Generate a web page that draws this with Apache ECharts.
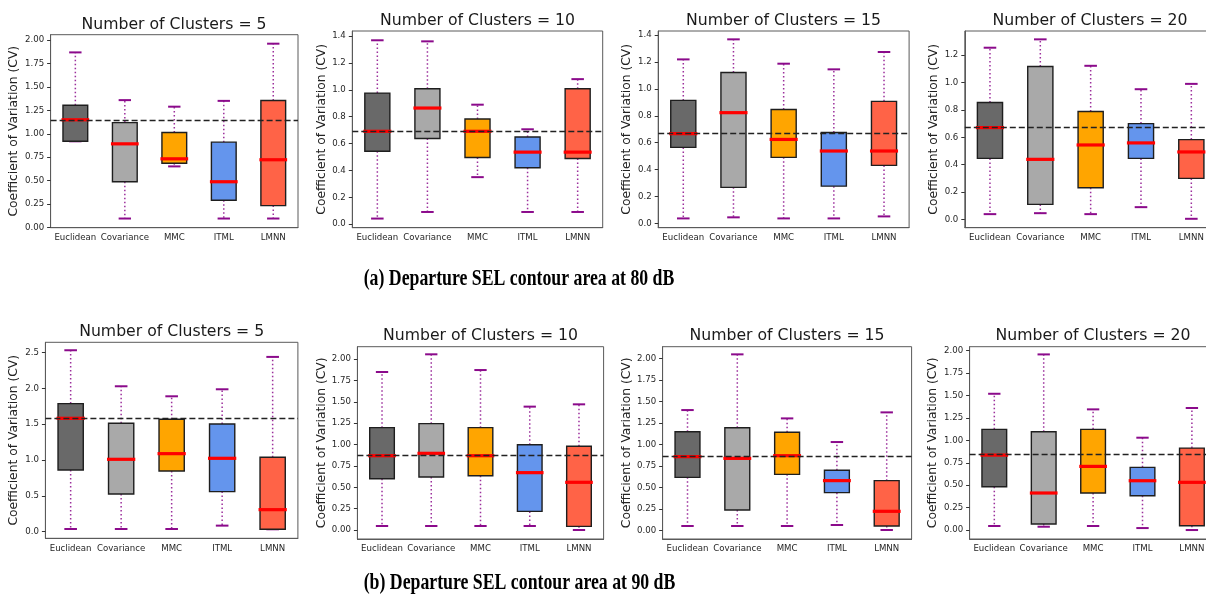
<!DOCTYPE html>
<html><head><meta charset="utf-8">
<script src="https://cdn.jsdelivr.net/npm/echarts@6/dist/echarts.min.js"></script>
<style>html,body{margin:0;padding:0;background:#fff}#c{width:1206px;height:599px}</style>
</head><body><div id="c"></div>
<script>
// ---------------- DATA ----------------
const categories = ['Euclidean', 'Covariance', 'MMC', 'ITML', 'LMNN'];
const panelTitles = ['Number of Clusters = 5', 'Number of Clusters = 10', 'Number of Clusters = 15', 'Number of Clusters = 20',
                     'Number of Clusters = 5', 'Number of Clusters = 10', 'Number of Clusters = 15', 'Number of Clusters = 20'];
const captionA = '(a) Departure SEL contour area at 80 dB';
const captionB = '(b) Departure SEL contour area at 90 dB';
const yAxisName = 'Coefficient of Variation (CV)';

// five-number summaries per method: [lower whisker, Q1, median, Q3, upper whisker]
const sel80k5 = [[0.92, 0.92, 1.15, 1.305, 1.87], [0.095, 0.488, 0.893, 1.12, 1.36], [0.652, 0.686, 0.733, 1.014, 1.29], [0.095, 0.29, 0.488, 0.911, 1.352], [0.095, 0.233, 0.723, 1.356, 1.963]];
const sel80k10 = [[0.042, 0.543, 0.691, 0.975, 1.368], [0.091, 0.637, 0.864, 1.007, 1.36], [0.35, 0.496, 0.691, 0.783, 0.889], [0.091, 0.42, 0.536, 0.649, 0.706], [0.091, 0.489, 0.536, 1.007, 1.079]];
const sel80k15 = [[0.037, 0.565, 0.667, 0.914, 1.219], [0.045, 0.268, 0.823, 1.122, 1.368], [0.037, 0.491, 0.624, 0.847, 1.187], [0.037, 0.277, 0.538, 0.676, 1.145], [0.052, 0.431, 0.538, 0.907, 1.274]];
const sel80k20 = [[0.039, 0.446, 0.671, 0.854, 1.254], [0.046, 0.11, 0.439, 1.117, 1.315], [0.039, 0.232, 0.544, 0.788, 1.122], [0.09, 0.446, 0.559, 0.7, 0.951], [0.005, 0.3, 0.493, 0.583, 0.99]];
const sel90k5 = [[0.037, 0.861, 1.583, 1.788, 2.533], [0.037, 0.526, 1.01, 1.513, 2.03], [0.037, 0.847, 1.089, 1.569, 1.89], [0.084, 0.559, 1.024, 1.504, 1.988], [0.033, 0.033, 0.307, 1.038, 2.44]];
const sel90k10 = [[0.047, 0.6, 0.869, 1.197, 1.848], [0.047, 0.62, 0.897, 1.244, 2.055], [0.047, 0.635, 0.869, 1.197, 1.871], [0.047, 0.218, 0.671, 0.998, 1.443], [0.0, 0.043, 0.558, 0.979, 1.47]];
const sel90k15 = [[0.05, 0.616, 0.857, 1.147, 1.399], [0.05, 0.236, 0.837, 1.194, 2.047], [0.05, 0.651, 0.868, 1.14, 1.302], [0.062, 0.438, 0.578, 0.698, 1.027], [0.004, 0.05, 0.221, 0.578, 1.372]];
const sel90k20 = [[0.045, 0.483, 0.836, 1.123, 1.52], [0.037, 0.067, 0.413, 1.097, 1.959], [0.045, 0.413, 0.71, 1.123, 1.346], [0.022, 0.383, 0.55, 0.699, 1.03], [0.0, 0.048, 0.532, 0.914, 1.361]];
const panelData = [sel80k5, sel80k10, sel80k15, sel80k20, sel90k5, sel90k10, sel90k15, sel90k20];

// y tick labels per panel
const ticks2dp = ['0.00', '0.25', '0.50', '0.75', '1.00', '1.25', '1.50', '1.75', '2.00'];
const ticks14 = ['0.0', '0.2', '0.4', '0.6', '0.8', '1.0', '1.2', '1.4'];
const ticks12 = ['0.0', '0.2', '0.4', '0.6', '0.8', '1.0', '1.2'];
const ticks25 = ['0.0', '0.5', '1.0', '1.5', '2.0', '2.5'];
const panelTicks = [ticks2dp, ticks14, ticks14, ticks12, ticks25, ticks2dp, ticks2dp, ticks2dp];

// ---------------- LAYOUT / STYLE ----------------
const yRanges = [[-0.003, 2.059], [-0.026, 1.437], [-0.032, 1.43], [-0.06, 1.376], [-0.093, 2.644], [-0.105, 2.144], [-0.101, 2.136], [-0.1, 2.045]];
const grids = [
  {left: 50.6, top: 34.7, width: 247.4, height: 193},
  {left: 352.3, top: 31, width: 250.4, height: 196.7},
  {left: 658.2, top: 31, width: 250.9, height: 196.7},
  {left: 964.8, top: 31, width: 251.7, height: 196.7},
  {left: 45.4, top: 342.3, width: 252.5, height: 196},
  {left: 357.4, top: 346.7, width: 246.2, height: 192.3},
  {left: 662.6, top: 346.7, width: 249, height: 192.3},
  {left: 969.6, top: 346.7, width: 247, height: 192.3}
];
const nameGaps = [31, 24, 25, 25, 26, 29.5, 29.5, 30.5];
const titlePos = [[174, 25], [477.5, 20.7], [783.5, 20.7], [1090, 20.7], [171.7, 331.7], [480.5, 336], [787, 336], [1093, 336]];
const boxColors = ['#696969', '#a9a9a9', '#ffa500', '#6495ed', '#ff6347'];
const whiskerColor = '#8b0a8b';
const FONT = 'DejaVu Sans';
const frameColor = '#5a5a5a';

function renderItem(params, api) {
  const x = api.value(0);
  const low = api.value(1), q1 = api.value(2), med = api.value(3), q3 = api.value(4), high = api.value(5);
  const band = api.size([1, 0])[0];
  const bw = band * 0.5, cw = band * 0.25;
  const pL = api.coord([x, low]), p1 = api.coord([x, q1]), pM = api.coord([x, med]), p3 = api.coord([x, q3]), pH = api.coord([x, high]);
  const cx = pL[0];
  const children = [];
  const dot = {stroke: whiskerColor, lineWidth: 1.5, lineDash: [1.5, 2.5], opacity: 0.85};
  if (Math.abs(pL[1] - p1[1]) > 0.5) children.push({type: 'line', shape: {x1: cx, y1: p1[1], x2: cx, y2: pL[1]}, style: dot});
  children.push({type: 'line', shape: {x1: cx, y1: p3[1], x2: cx, y2: pH[1]}, style: dot});
  children.push({type: 'line', shape: {x1: cx - cw / 2, y1: pL[1], x2: cx + cw / 2, y2: pL[1]}, style: {stroke: whiskerColor, lineWidth: 2}});
  children.push({type: 'line', shape: {x1: cx - cw / 2, y1: pH[1], x2: cx + cw / 2, y2: pH[1]}, style: {stroke: whiskerColor, lineWidth: 2}});
  children.push({type: 'rect', shape: {x: cx - bw / 2, y: p3[1], width: bw, height: p1[1] - p3[1]},
    style: {fill: boxColors[params.dataIndex], stroke: '#1e1e1e', lineWidth: 1.4}});
  children.push({type: 'line', shape: {x1: cx - bw / 2 - 1.5, y1: pM[1], x2: cx + bw / 2 + 1.5, y2: pM[1]}, style: {stroke: '#ff0000', lineWidth: 3.2}});
  return {type: 'group', children};
}

const option = {
  animation: false,
  backgroundColor: '#ffffff',
  grid: [], xAxis: [], yAxis: [], series: [], graphic: []
};

panelData.forEach((rows, i) => {
  option.grid.push(Object.assign({show: true, borderColor: frameColor, borderWidth: 1, backgroundColor: 'transparent',
    containLabel: false, outerBoundsMode: 'none'}, grids[i]));
  option.xAxis.push({
    type: 'category', gridIndex: i, data: categories, boundaryGap: true,
    axisLine: {onZero: false, lineStyle: {color: frameColor, width: 1}},
    axisTick: {alignWithLabel: true, length: 3.5, lineStyle: {color: '#333'}},
    axisLabel: {fontFamily: FONT, fontSize: 8.6, color: '#262626', margin: 5.5, interval: 0},
    splitLine: {show: false}
  });
  const tl = panelTicks[i];
  const tv = tl.map(Number);
  option.yAxis.push({
    type: 'value', gridIndex: i, min: yRanges[i][0], max: yRanges[i][1],
    name: yAxisName, nameLocation: 'middle', nameRotate: 90, nameGap: nameGaps[i],
    nameTextStyle: {fontFamily: FONT, fontSize: 12.3, color: '#222'},
    axisLine: {show: true, onZero: false, lineStyle: {color: frameColor, width: 1}},
    axisTick: {show: true, length: 3.5, customValues: tv, lineStyle: {color: '#333'}},
    axisLabel: {fontFamily: FONT, fontSize: 8.6, color: '#262626', margin: 6.5, customValues: tv,
      formatter: (v) => { const k = tv.findIndex(t => Math.abs(t - v) < 1e-9); return k >= 0 ? tl[k] : ''; }},
    splitLine: {show: false}
  });
  option.series.push({
    type: 'custom', xAxisIndex: i, yAxisIndex: i, renderItem,
    encode: {x: 0, y: [1, 2, 3, 4, 5]},
    data: rows.map((r, j) => [j, r[0], r[1], r[2], r[3], r[4]]),
    markLine: {
      silent: true, symbol: ['none', 'none'], animation: false,
      label: {show: false},
      lineStyle: {type: [6, 3], color: '#222', width: 1.4},
      data: [{yAxis: rows[0][2]}]
    }
  });
  option.graphic.push({
    type: 'text', x: titlePos[i][0], y: titlePos[i][1],
    style: {text: panelTitles[i], font: '15.7px "DejaVu Sans"', fill: '#1a1a1a', textAlign: 'center', textVerticalAlign: 'middle'}
  });
});

option.graphic.push({type: 'text', x: 519, y: 278.5, scaleX: 0.74,
  style: {text: captionA, font: 'bold 24px "Liberation Serif"', fill: '#000', textAlign: 'center', textVerticalAlign: 'middle'}});
option.graphic.push({type: 'text', x: 519.5, y: 583, scaleX: 0.74,
  style: {text: captionB, font: 'bold 24px "Liberation Serif"', fill: '#000', textAlign: 'center', textVerticalAlign: 'middle'}});

const chart = echarts.init(document.getElementById('c'), null, {renderer: 'canvas'});
chart.setOption(option);
</script>
</body></html>
